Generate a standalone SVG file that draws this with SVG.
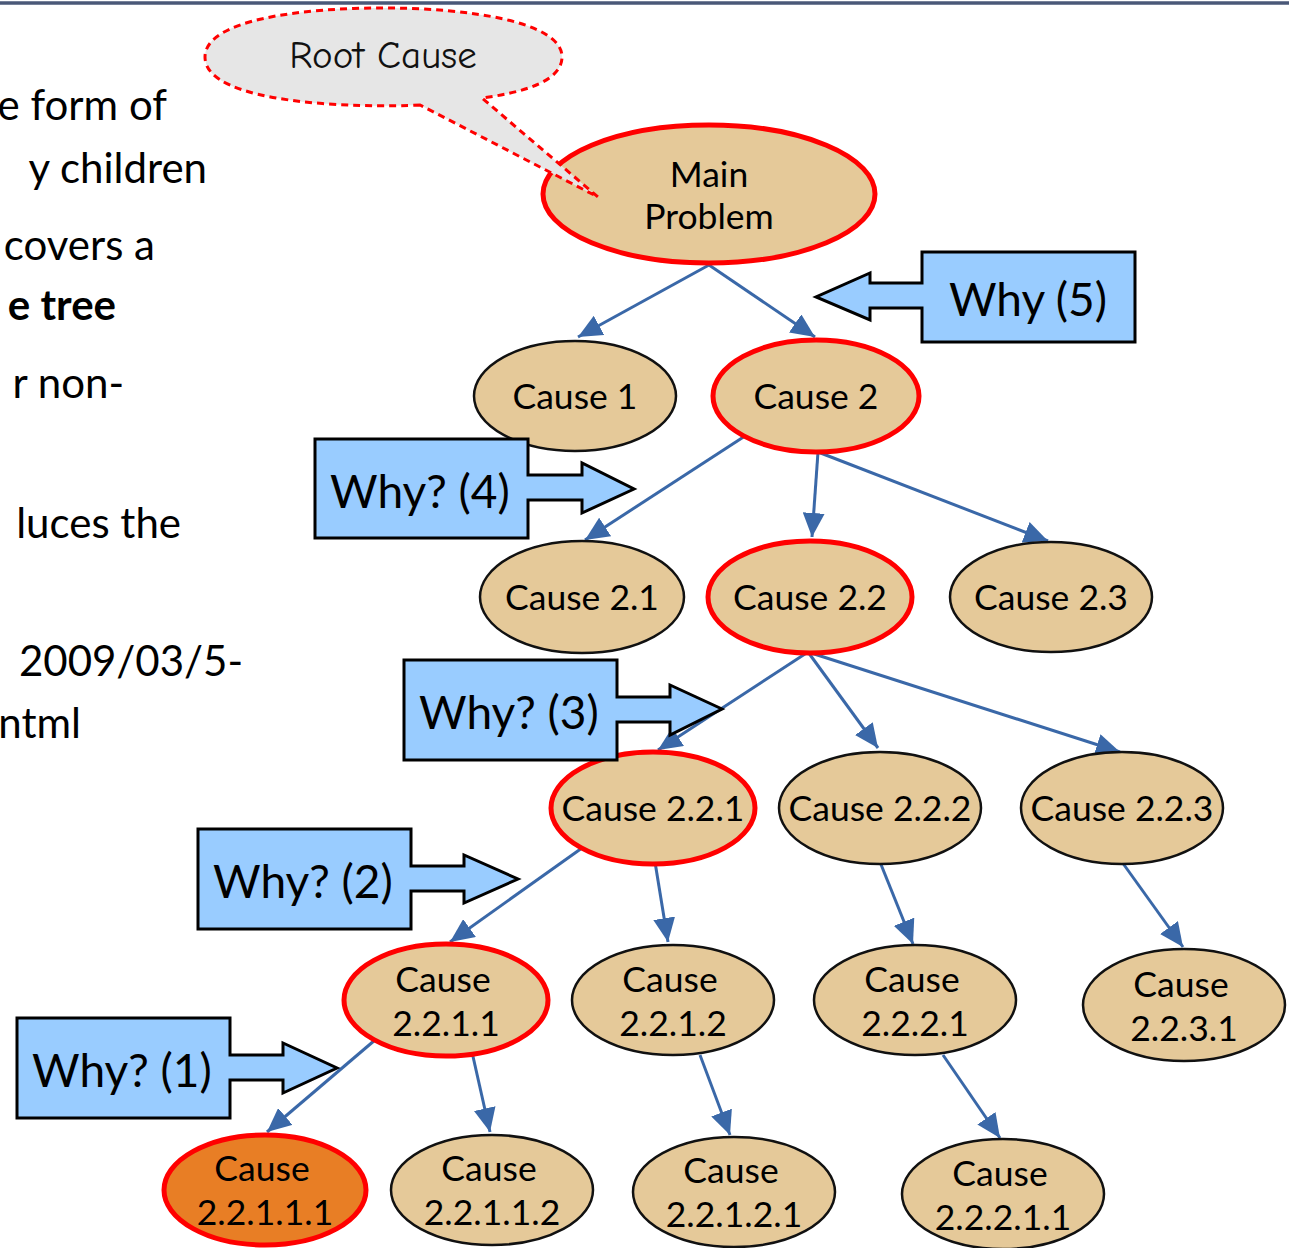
<svg xmlns="http://www.w3.org/2000/svg" width="1289" height="1248" viewBox="0 0 1289 1248">
<style>
.bg{fill:#ffffff}
.side{font-family:Lato,"Noto Sans",sans-serif;font-size:42px;fill:#000}
.node{fill:#e5c999;stroke:#111;stroke-width:2.5}
.hot{fill:#e5c999;stroke:#ff0000;stroke-width:5}
.root{fill:#e87e25;stroke:#ff0000;stroke-width:5}
.lbl{font-family:Lato,"Noto Sans",sans-serif;font-size:35.5px;fill:#000;text-anchor:middle}
.why{fill:#99ccff;stroke:#000;stroke-width:3;stroke-linejoin:miter}
.whyt{font-family:Lato,"Noto Sans",sans-serif;font-size:46px;fill:#000}
.conn{stroke:#3a68a8;stroke-width:3;fill:none}
</style>
<defs>
<marker id="ah" markerUnits="userSpaceOnUse" markerWidth="24" markerHeight="22" refX="24" refY="11" orient="auto">
<path d="M0,0 L24,11 L0,22 Z" fill="#3a68a8"/>
</marker>
</defs>
<rect class="bg" x="0" y="0" width="1289" height="1248"/>
<line x1="0" y1="3" x2="1289" y2="3" stroke="#4a5878" stroke-width="3.5"/>
<g id="side-text">
<text class="side" x="167" y="120" text-anchor="end">e form of</text>
<text class="side" x="207" y="183" text-anchor="end">y children</text>
<text class="side" x="155" y="260" text-anchor="end">covers a</text>
<text class="side" x="116" y="320" text-anchor="end" font-weight="bold">e tree</text>
<text class="side" x="124" y="398" text-anchor="end">r non-</text>
<text class="side" x="181" y="538" text-anchor="end">luces the</text>
<text class="side" x="243" y="676" text-anchor="end">2009/03/5-</text>
<text class="side" x="81" y="738" text-anchor="end">ntml</text>
</g>
<g id="connectors">
<line class="conn" x1="709" y1="265" x2="578" y2="337" marker-end="url(#ah)"/>
<line class="conn" x1="709" y1="265" x2="815" y2="337" marker-end="url(#ah)"/>
<line class="conn" x1="745" y1="436" x2="585" y2="540" marker-end="url(#ah)"/>
<line class="conn" x1="818" y1="452" x2="812" y2="537" marker-end="url(#ah)"/>
<line class="conn" x1="818" y1="452" x2="1048" y2="541" marker-end="url(#ah)"/>
<line class="conn" x1="808" y1="652" x2="658" y2="750" marker-end="url(#ah)"/>
<line class="conn" x1="808" y1="652" x2="878" y2="748" marker-end="url(#ah)"/>
<line class="conn" x1="808" y1="652" x2="1120" y2="752" marker-end="url(#ah)"/>
<line class="conn" x1="582" y1="848" x2="450" y2="942" marker-end="url(#ah)"/>
<line class="conn" x1="655" y1="862" x2="668" y2="942" marker-end="url(#ah)"/>
<line class="conn" x1="880" y1="862" x2="913" y2="944" marker-end="url(#ah)"/>
<line class="conn" x1="1122" y1="862" x2="1183" y2="947" marker-end="url(#ah)"/>
<line class="conn" x1="375" y1="1040" x2="267" y2="1132" marker-end="url(#ah)"/>
<line class="conn" x1="472" y1="1052" x2="490" y2="1132" marker-end="url(#ah)"/>
<line class="conn" x1="700" y1="1055" x2="730" y2="1135" marker-end="url(#ah)"/>
<line class="conn" x1="943" y1="1055" x2="1000" y2="1138" marker-end="url(#ah)"/>
</g>
<g id="main-problem"><ellipse class="hot" cx="709" cy="194" rx="166" ry="69"/><text class="lbl" x="709" y="187" font-size="34">Main</text><text class="lbl" x="709" y="229" font-size="34">Problem</text></g>
<g id="callout">
<path d="M420,105 C360,108 205,105 205,57 C205,20 300,8 383,8 C470,8 562,22 562,57 C562,82 520,93 482,98 L598,197 Z" fill="#e6e6e6" stroke="none"/>
<path d="M420,105 C360,108 205,105 205,57 C205,20 300,8 383,8 C470,8 562,22 562,57 C562,82 520,93 482,98 L598,197 Z" fill="none" stroke="#ff0000" stroke-width="3" stroke-dasharray="7,5"/>
<text x="383" y="68" font-family="'Comic Neue','DejaVu Sans',sans-serif" font-size="39" text-anchor="middle" fill="#111">Root Cause</text>
</g>
<g id="cause-1"><ellipse class="node" cx="575" cy="396" rx="101" ry="55"/><text class="lbl" x="575" y="409">Cause 1</text></g>
<g id="cause-2"><ellipse class="hot" cx="816" cy="396" rx="103" ry="56"/><text class="lbl" x="816" y="409">Cause 2</text></g>
<g id="cause-2-1"><ellipse class="node" cx="582" cy="597" rx="102" ry="56"/><text class="lbl" x="582" y="610">Cause 2.1</text></g>
<g id="cause-2-2"><ellipse class="hot" cx="810" cy="597" rx="102" ry="56"/><text class="lbl" x="810" y="610">Cause 2.2</text></g>
<g id="cause-2-3"><ellipse class="node" cx="1051" cy="597" rx="101" ry="55"/><text class="lbl" x="1051" y="610">Cause 2.3</text></g>
<g id="cause-2-2-1"><ellipse class="hot" cx="653" cy="808" rx="102" ry="56"/><text class="lbl" x="653" y="821">Cause 2.2.1</text></g>
<g id="cause-2-2-2"><ellipse class="node" cx="880" cy="808" rx="101" ry="56"/><text class="lbl" x="880" y="821">Cause 2.2.2</text></g>
<g id="cause-2-2-3"><ellipse class="node" cx="1122" cy="808" rx="101" ry="56"/><text class="lbl" x="1122" y="821">Cause 2.2.3</text></g>
<g id="cause-2-2-1-1"><ellipse class="hot" cx="446" cy="1000" rx="102" ry="56"/><text class="lbl" x="443" y="992">Cause</text><text class="lbl" x="446" y="1036">2.2.1.1</text></g>
<g id="cause-2-2-1-2"><ellipse class="node" cx="673" cy="1000" rx="101" ry="55"/><text class="lbl" x="670" y="992">Cause</text><text class="lbl" x="673" y="1036">2.2.1.2</text></g>
<g id="cause-2-2-2-1"><ellipse class="node" cx="915" cy="1000" rx="101" ry="55"/><text class="lbl" x="912" y="992">Cause</text><text class="lbl" x="915" y="1036">2.2.2.1</text></g>
<g id="cause-2-2-3-1"><ellipse class="node" cx="1184" cy="1005" rx="101" ry="56"/><text class="lbl" x="1181" y="997">Cause</text><text class="lbl" x="1184" y="1041">2.2.3.1</text></g>
<g id="cause-2-2-1-1-1"><ellipse class="root" cx="265" cy="1190" rx="101" ry="55"/><text class="lbl" x="262" y="1181">Cause</text><text class="lbl" x="265" y="1225">2.2.1.1.1</text></g>
<g id="cause-2-2-1-1-2"><ellipse class="node" cx="492" cy="1190" rx="101" ry="55"/><text class="lbl" x="489" y="1181">Cause</text><text class="lbl" x="492" y="1225">2.2.1.1.2</text></g>
<g id="cause-2-2-1-2-1"><ellipse class="node" cx="734" cy="1192" rx="101" ry="55"/><text class="lbl" x="731" y="1183">Cause</text><text class="lbl" x="734" y="1227">2.2.1.2.1</text></g>
<g id="cause-2-2-2-1-1"><ellipse class="node" cx="1003" cy="1194" rx="101" ry="55"/><text class="lbl" x="1000" y="1186">Cause</text><text class="lbl" x="1003" y="1230">2.2.2.1.1</text></g>
<g id="why-5">
<path class="why" d="M922,252 L1135,252 L1135,342 L922,342 L922,308 L870,308 L870,320 L816,297 L870,273 L870,283 L922,283 Z"/>
<text class="whyt" x="1028" y="316" text-anchor="middle">Why (5)</text>
</g>
<g id="why-4">
<path class="why" d="M315,439 L528,439 L528,475 L582,475 L582,463 L634,489 L582,513 L582,500 L528,500 L528,538 L315,538 Z"/>
<text class="whyt" x="330" y="508">Why? (4)</text>
</g>
<g id="why-3">
<path class="why" d="M404,660 L617,660 L617,697 L670,697 L670,685 L722,709 L670,735 L670,722 L617,722 L617,760 L404,760 Z"/>
<text class="whyt" x="419" y="729">Why? (3)</text>
</g>
<g id="why-2">
<path class="why" d="M198,829 L411,829 L411,866 L464,866 L464,855 L518,879 L464,903 L464,891 L411,891 L411,929 L198,929 Z"/>
<text class="whyt" x="213" y="898">Why? (2)</text>
</g>
<g id="why-1">
<path class="why" d="M17,1018 L230,1018 L230,1055 L283,1055 L283,1043 L337,1068 L283,1093 L283,1080 L230,1080 L230,1118 L17,1118 Z"/>
<text class="whyt" x="32" y="1087">Why? (1)</text>
</g>
</svg>
